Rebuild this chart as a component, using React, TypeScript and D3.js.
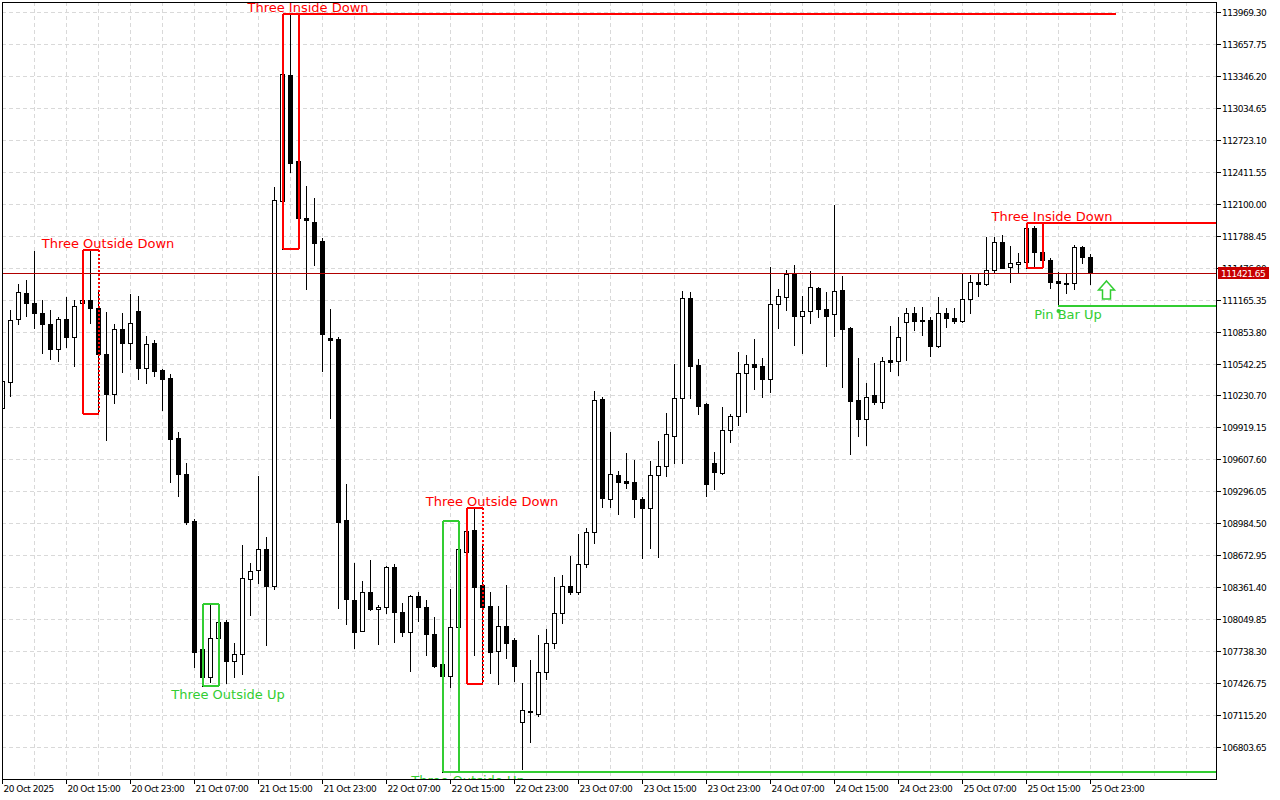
import React from "react";
import * as d3 from "d3";

// ---- Data (BTC H1, MT4-style chart) ----
const START_UTC = Date.UTC(2025, 9, 20, 7, 0, 0);

const opens = [110108,110364,110976,111229,111132,111034,110927,110683,110976,110800,111132,111161,111083,110635,110245,110878,110742,111054,110498,110742,110479,110401,109816,109465,109006,107758,107485,107866,108022,107641,107710,108441,108529,108733,108373,112126,113355,112516,111961,111922,111736,110791,110781,109016,108236,107934,108314,108148,108168,108558,108119,107924,108275,108168,107905,107612,107495,107973,108704,108919,108382,108178,107739,107983,107846,107047,107144,107125,107534,107817,108109,108373,108314,108587,108899,110196,109221,109455,109396,109387,109221,109133,109455,109543,109835,110206,111181,110527,110147,109572,109474,109894,110030,110449,110537,110518,110391,111122,111190,111415,111005,111054,111278,111073,111025,111259,110888,110186,110001,110235,110167,110576,110566,110947,111034,110966,110966,110713,111034,110986,110956,111171,111337,111317,111454,111727,111483,111512,111532,111863,111629,111551,111346,111327,111327,111678,111580];
const highs = [110401,111064,111317,111356,111639,111161,111064,110995,111190,111161,111346,111649,111259,111044,110927,111034,111220,111200,110810,110771,110488,110440,109874,109572,109026,107934,108197,108041,108041,107817,108772,108597,109445,108850,112263,113491,113950,112955,112273,112156,111766,111073,110800,109367,108597,108421,108626,108187,108568,108587,108207,108285,108314,108236,108070,108168,108343,109006,108977,109133,108772,108314,108178,108382,107866,107427,107651,107895,107953,108460,108480,108665,108880,108938,110274,110215,109874,109494,109669,109601,109240,109591,109786,110059,110537,111249,111239,110586,110160,109679,110118,110050,110654,110625,110781,110596,111483,111268,111454,111502,111200,111444,111290,111239,112087,111395,110900,110596,110352,110547,110605,110908,110995,111083,111093,111093,110995,111190,111083,111083,111415,111405,111415,111775,111775,111795,111688,111619,111912,111883,111717,111571,111434,111415,111698,111688,111610];
const lows = [110069,110225,110927,111005,110888,110644,110586,110566,110703,110518,110654,110937,110050,109796,110157,110459,110586,110391,110352,110420,110089,109387,109250,108977,107583,107398,107437,107583,107427,107485,107515,108090,108402,107797,108343,111658,112409,111727,111268,111502,110469,110011,108158,108002,107768,107934,108140,107807,108109,107827,107885,107544,108031,107700,107583,106559,107388,107960,108690,107700,107417,107524,107417,107671,107446,106588,106852,107105,107466,107768,108012,108295,108295,108558,108792,109143,109143,109075,109328,109045,108646,108743,108655,109445,109572,109572,110206,110050,109250,109318,109465,109777,109942,110069,110293,110215,110264,110888,111064,110722,110644,110937,110995,110518,110810,110313,109660,109835,109747,110147,110108,110469,110430,110576,110869,110820,110615,110703,110898,110937,110950,111034,111200,111310,111424,111470,111337,111424,111473,111473,111532,111278,111103,111229,111268,111522,111317];
const closes = [110371,110966,111239,111132,111034,110927,110683,110976,110800,111103,111161,111083,110635,110245,110878,110742,110937,110498,110732,110469,110391,109806,109465,108997,107729,107485,107866,108022,107641,107710,108451,108519,108733,108373,112136,113365,112497,111961,111941,111717,110830,110771,108997,108246,107924,108314,108148,108168,108558,108119,107924,108275,108168,107905,107593,107495,107973,108733,108909,108363,108168,107729,107983,107817,107593,107164,107150,107534,107817,108109,108373,108314,108587,108899,110186,109231,109465,109387,109380,109221,109133,109455,109543,109855,110206,111181,110518,110128,109367,109484,109894,110030,110449,110537,110508,110391,111122,111200,111415,111005,111054,111288,111073,111005,111249,110878,110176,110001,110215,110167,110566,110557,110800,111034,110956,110960,110713,111034,110986,110956,111171,111337,111317,111454,111727,111473,111522,111532,111863,111629,111551,111337,111327,111320,111678,111580,111421.65];

const yTickValues = [113969.30,113657.75,113346.20,113034.65,112723.10,112411.55,112100.00,111788.45,111476.90,111165.35,110853.80,110542.25,110230.70,109919.15,109607.60,109296.05,108984.50,108672.95,108361.40,108049.85,107738.30,107426.75,107115.20,106803.65];
const currentPrice = 111421.65;

// Pattern annotations
const patternNames = ["Three Outside Down","Three Inside Down","Three Outside Up","Three Outside Up","Three Outside Down","Three Inside Down","Pin Bar Up"];
const patternStart = [10, 35, 25, 55, 58, 128, 132];
const patternEnd = [12, 37, 27, 57, 60, 130, 132];
const patternBullish = [false, false, true, true, false, false, true];
const patternLineTo: (number | "edge" | null)[] = [null, 139.25, null, "edge", null, "edge", "edge"];
const pinArrowIndex = 138;
const pinArrowPrice = 111346;

const RED = "#FF0000";
const GREEN = "#32CD32";
const AXIS_FONT = "DejaVu Sans, Verdana, sans-serif";

export default function App() {
  const n = opens.length;
  const L = 2, T = 2, R = 1216, B = 779;
  const dateAt = (i: number) => new Date(START_UTC + i * 3600000);
  const x = d3.scaleUtc().domain([dateAt(0), dateAt(n - 1)]).range([2, 2 + 8 * (n - 1)]);
  const xi = (i: number) => Math.round(x(dateAt(i)));
  const y = d3.scaleLinear()
    .domain([yTickValues[yTickValues.length - 1], yTickValues[0]])
    .range([747, 12]);

  const vGrid = d3.range(4, 200, 4).map(xi).filter((v) => v < R);
  const xTicks = d3.range(0, n, 8);
  const fmtFirst = d3.utcFormat("%d %b %Y");
  const fmt = d3.utcFormat("%d %b %H:%M");

  const candles = d3.range(n).map((i) => {
    const cx = xi(i);
    const yo = Math.round(y(opens[i]));
    const yc = Math.round(y(closes[i]));
    const yh = Math.round(y(highs[i]));
    const yl = Math.round(y(lows[i]));
    const top = Math.min(yo, yc);
    const bot = Math.max(yo, yc);
    const up = closes[i] >= opens[i];
    let body;
    if (bot - top < 1) {
      body = <line x1={cx - 2} x2={cx + 3} y1={top + 0.5} y2={top + 0.5} stroke="#000" strokeWidth={1} />;
    } else if (up) {
      body = <rect x={cx - 1.5} y={top + 0.5} width={4} height={bot - top} fill="#fff" stroke="#000" strokeWidth={1} />;
    } else {
      body = <rect x={cx - 2} y={top} width={5} height={bot - top + 1} fill="#000" />;
    }
    return (
      <g key={i}>
        <line x1={cx + 0.5} x2={cx + 0.5} y1={yh} y2={yl + 1} stroke="#000" strokeWidth={1} />
        {body}
      </g>
    );
  });

  const patterns = patternNames.map((name, k) => {
    const s = patternStart[k], e = patternEnd[k];
    const hi = d3.max(highs.slice(s, e + 1)) as number;
    const lo = d3.min(lows.slice(s, e + 1)) as number;
    const x1 = xi(s) + 1, x2 = xi(e) + 1;
    const yt = Math.round(y(hi)), yb = Math.round(y(lo));
    const color = patternBullish[k] ? GREEN : RED;
    const lt = patternLineTo[k];
    const lineY = patternBullish[k] ? yb : yt;
    const lineEnd = lt === "edge" ? R : lt === null ? null : Math.round(x(dateAt(lt)));
    const isBox = e > s;
    const dottedRight = name === "Three Outside Down";
    const labelX = xi(e) + 10;
    const labelY = patternBullish[k] ? yb + 13 : yt - 2;
    return (
      <g key={k}>
        {isBox && (
          <g stroke={color} strokeWidth={2} fill="none">
            <line x1={x1} x2={x2} y1={yt} y2={yt} />
            <line x1={x1} x2={x2} y1={yb} y2={yb} />
            <line x1={x1} x2={x1} y1={yt} y2={yb} />
            <line x1={x2} x2={x2} y1={yt} y2={yb} strokeDasharray={dottedRight ? "2,2" : undefined} />
          </g>
        )}
        {lineEnd !== null && (
          <line x1={isBox ? x1 : xi(s)} x2={lineEnd} y1={lineY} y2={lineY} stroke={color} strokeWidth={2} />
        )}
        <text x={labelX} y={labelY} fill={color} fontFamily={AXIS_FONT} fontSize={13} textAnchor="middle">
          {name}
        </text>
        {!isBox && <circle cx={xi(s) + 0.5} cy={yb + 5} r={2} fill={color} />}
      </g>
    );
  });

  const ax = xi(pinArrowIndex) + 0.5;
  const ay = Math.round(y(pinArrowPrice));
  const arrowPath = `M${ax},${ay} L${ax + 8},${ay + 9} L${ax + 4},${ay + 9} L${ax + 4},${ay + 18} L${ax - 4},${ay + 18} L${ax - 4},${ay + 9} L${ax - 8},${ay + 9} Z`;

  const yPrice = Math.round(y(currentPrice));

  return (
    <svg width={1280} height={800} style={{ position: "absolute", left: 0, top: 0, background: "#fff" }}>
      <defs>
        <clipPath id="plotClip">
          <rect x={L} y={0} width={R - L} height={B} />
        </clipPath>
      </defs>
      {/* grid */}
      <g stroke="#D9D9D9" strokeWidth={1} strokeDasharray="4,3">
        {yTickValues.map((v) => (
          <line key={"h" + v} x1={L} x2={R} y1={Math.round(y(v)) + 0.5} y2={Math.round(y(v)) + 0.5} />
        ))}
        {vGrid.map((gx) => (
          <line key={"v" + gx} x1={gx + 0.5} x2={gx + 0.5} y1={T} y2={B} />
        ))}
      </g>
      <g clipPath="url(#plotClip)">
        {candles}
        <line x1={L} x2={R} y1={yPrice + 0.5} y2={yPrice + 0.5} stroke="#B00000" strokeWidth={1} />
        {patterns}
        <path d={arrowPath} fill="#fff" stroke={GREEN} strokeWidth={1.5} />
      </g>
      {/* frame */}
      <g stroke="#000" strokeWidth={1} fill="none">
        <line x1={L + 0.5} x2={L + 0.5} y1={T} y2={B} />
        <line x1={L} x2={R} y1={T + 0.5} y2={T + 0.5} />
        <line x1={R + 0.5} x2={R + 0.5} y1={T} y2={B + 1} />
        <line x1={L} x2={R + 1} y1={B + 0.5} y2={B + 0.5} />
      </g>
      {/* y axis */}
      <g fontFamily={AXIS_FONT} fontSize={9} letterSpacing={-0.5} fill="#000">
        {yTickValues.map((v) => {
          const yy = Math.round(y(v)) + 0.5;
          return (
            <g key={"yt" + v}>
              <line x1={R} x2={R + 5} y1={yy} y2={yy} stroke="#000" />
              <text x={R + 6} y={yy + 3.5}>{v.toFixed(2)}</text>
            </g>
          );
        })}
      </g>
      {/* current price label */}
      <rect x={R + 2} y={yPrice - 6} width={51} height={12} fill="#C80000" />
      <text x={R + 5} y={yPrice + 3.5} fontFamily={AXIS_FONT} fontSize={9} letterSpacing={-0.5} fill="#fff">
        {currentPrice.toFixed(2)}
      </text>
      {/* x axis */}
      <g fontFamily={AXIS_FONT} fontSize={9} letterSpacing={-0.5} fill="#000">
        {xTicks.map((i, k) => {
          const tx = xi(i) + 0.5;
          return (
            <g key={"xt" + i}>
              <line x1={tx} x2={tx} y1={B} y2={B + 5} stroke="#000" />
              <text x={tx + 1} y={792}>{k === 0 ? fmtFirst(dateAt(i)) : fmt(dateAt(i))}</text>
            </g>
          );
        })}
      </g>
    </svg>
  );
}
